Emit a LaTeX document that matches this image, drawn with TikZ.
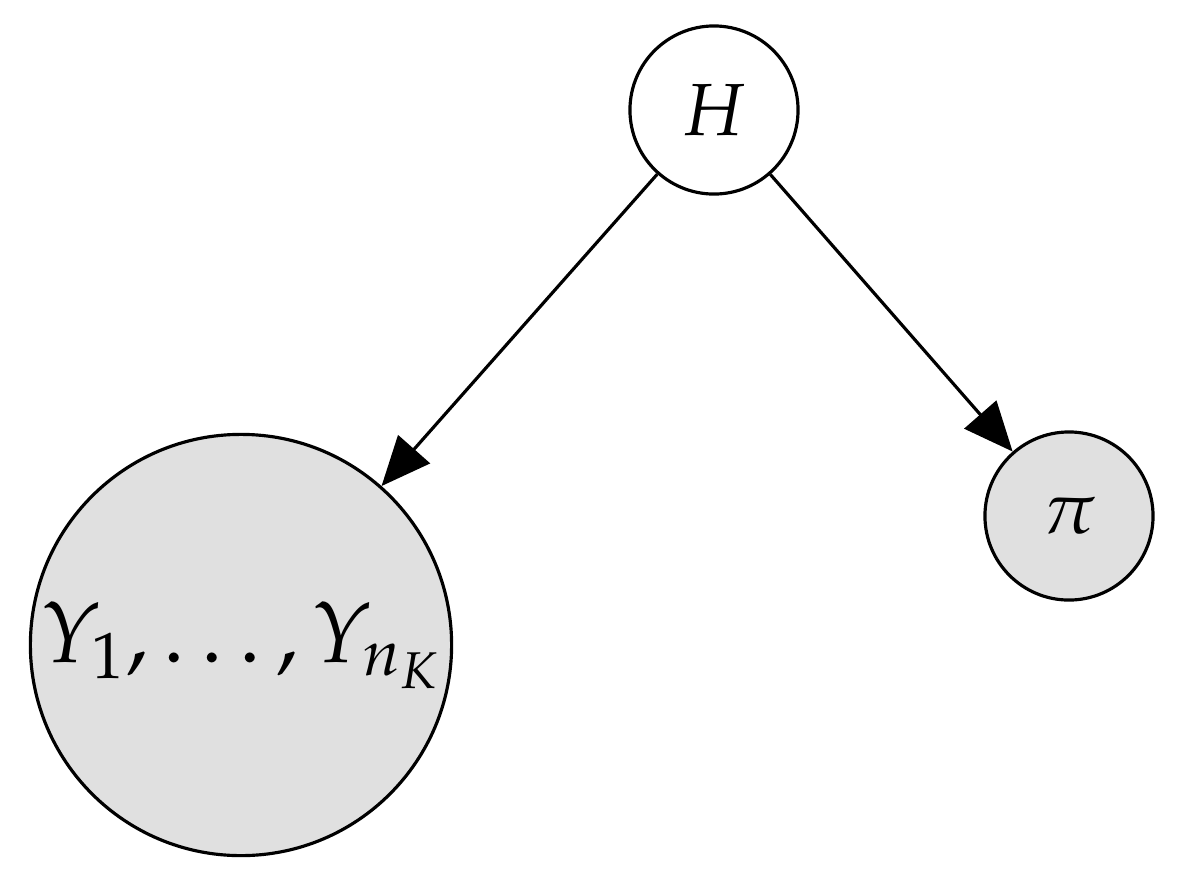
\documentclass[tikz,border=0pt]{standalone}
\usepackage{mathpazo}
\usetikzlibrary{arrows.meta}
\definecolor{obs}{HTML}{E0E0E0}
\begin{document}
\begin{tikzpicture}[x=0.01cm,y=-0.01cm,
  nd/.style={circle,draw,line width=0.9pt,inner sep=0pt},
  ar/.style={line width=0.9pt,-{Triangle[length=14pt,width=12pt]}}]
\useasboundingbox (0,0) rectangle (1190,890);
\node[nd,minimum size=1.68cm,font=\fontsize{21}{24}\selectfont] (H) at (714,110) {$H$};
\node[nd,fill=obs,minimum size=4.21cm,font=\fontsize{24.5}{28}\selectfont] (Y) at (241,645) {$Y_1,\ldots,Y_{n_K}$};
\node[nd,fill=obs,minimum size=1.68cm,font=\fontsize{21}{24}\selectfont] (P) at (1069,516) {$\pi$};
\draw[ar] (H) -- (Y);
\draw[ar] (H) -- (P);
\end{tikzpicture}
\end{document}
